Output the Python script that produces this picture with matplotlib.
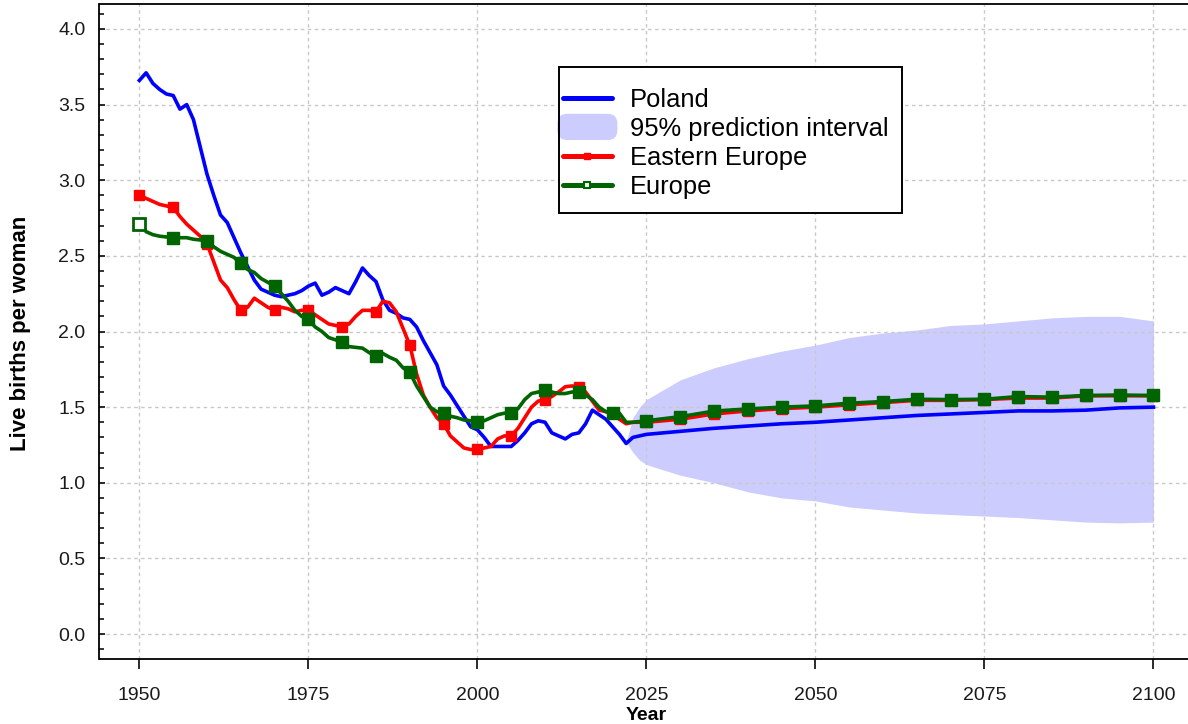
import matplotlib
matplotlib.use("Agg")
import matplotlib.pyplot as plt
from matplotlib.ticker import MultipleLocator
from matplotlib.patches import Patch, Rectangle, FancyBboxPatch
from matplotlib.lines import Line2D
from matplotlib.legend_handler import HandlerPatch

plt.rcParams["font.family"] = ["Liberation Sans", "DejaVu Sans"]

# ---- Total fertility rate, live births per woman ----
poland_years = list(range(1950, 2024)) + list(range(2025, 2101, 5))
poland_tfr = [
    3.66, 3.71, 3.64, 3.60, 3.57, 3.56, 3.47, 3.50, 3.40, 3.22,   # 1950-59
    3.04, 2.90, 2.77, 2.72, 2.62, 2.52, 2.43, 2.34, 2.28, 2.26,   # 1960-69
    2.24, 2.23, 2.24, 2.25, 2.27, 2.30, 2.32, 2.24, 2.26, 2.29,   # 1970-79
    2.27, 2.25, 2.33, 2.42, 2.37, 2.33, 2.21, 2.14, 2.12, 2.09,   # 1980-89
    2.08, 2.03, 1.94, 1.86, 1.78, 1.64, 1.58, 1.51, 1.44, 1.37,   # 1990-99
    1.35, 1.30, 1.24, 1.24, 1.24, 1.24, 1.28, 1.33, 1.39, 1.41,   # 2000-09
    1.40, 1.33, 1.31, 1.29, 1.32, 1.33, 1.39, 1.48, 1.45, 1.42,   # 2010-19
    1.37, 1.32, 1.26, 1.30,                                       # 2020-23
    1.32, 1.34, 1.36, 1.375, 1.39, 1.40, 1.415, 1.43,             # 2025-60
    1.445, 1.455, 1.465, 1.475, 1.475, 1.48, 1.495, 1.50,         # 2065-2100
]

east_years = [
    1950, 1951, 1953, 1955, 1956, 1957, 1959, 1960, 1961, 1962, 1963, 1964,
    1965, 1966, 1967, 1968, 1969, 1970, 1971, 1972, 1973, 1974, 1975, 1976,
    1977, 1978, 1979, 1980, 1981, 1982, 1983, 1984, 1985, 1986, 1987, 1988,
    1989, 1990, 1991, 1992, 1993, 1994, 1995, 1996, 1997, 1998, 1999, 2000,
    2001, 2002, 2003, 2004, 2005, 2006, 2007, 2008, 2009, 2010, 2011, 2012,
    2013, 2014, 2015, 2016, 2017, 2018, 2019, 2020, 2021, 2022, 2023,
] + list(range(2025, 2101, 5))
east_tfr = [
    2.90, 2.88, 2.84, 2.82, 2.76, 2.71, 2.63, 2.58, 2.46, 2.34, 2.29, 2.21,
    2.14, 2.16, 2.22, 2.19, 2.16, 2.14, 2.16, 2.15, 2.13, 2.14, 2.14, 2.11,
    2.08, 2.05, 2.04, 2.03, 2.05, 2.10, 2.14, 2.14, 2.13, 2.20, 2.19, 2.13,
    2.02, 1.91, 1.72, 1.58, 1.50, 1.43, 1.39, 1.31, 1.27, 1.23, 1.22, 1.22,
    1.23, 1.24, 1.29, 1.31, 1.31, 1.36, 1.43, 1.50, 1.54, 1.55, 1.57, 1.60,
    1.635, 1.64, 1.635, 1.60, 1.54, 1.48, 1.47, 1.46, 1.42, 1.39, 1.40,
    1.40, 1.42, 1.455, 1.475, 1.49, 1.50, 1.515, 1.53,
    1.545, 1.545, 1.55, 1.56, 1.56, 1.575, 1.575, 1.575,
]

europe_years = [
    1950, 1951, 1952, 1953, 1955, 1957, 1958, 1960, 1961, 1962, 1964, 1965,
    1966, 1967, 1968, 1970, 1971, 1972, 1973, 1974, 1975, 1976, 1977, 1978,
    1980, 1981, 1983, 1984, 1985, 1986, 1987, 1988, 1989, 1990, 1991, 1992,
    1993, 1994, 1995, 1996, 1997, 1998, 1999, 2000, 2001, 2002, 2003, 2004,
    2005, 2006, 2007, 2008, 2009, 2010, 2011, 2012, 2013, 2014, 2015, 2016,
    2017, 2018, 2019, 2020, 2021, 2022, 2023,
] + list(range(2025, 2101, 5))
europe_tfr = [
    2.71, 2.66, 2.64, 2.63, 2.62, 2.62, 2.61, 2.60, 2.56, 2.53, 2.49, 2.45,
    2.41, 2.39, 2.35, 2.30, 2.25, 2.20, 2.14, 2.10, 2.08, 2.03, 2.00, 1.96,
    1.93, 1.90, 1.89, 1.86, 1.84, 1.855, 1.83, 1.81, 1.76, 1.73, 1.64, 1.57,
    1.50, 1.47, 1.46, 1.44, 1.43, 1.415, 1.41, 1.40, 1.41, 1.43, 1.45, 1.46,
    1.46, 1.49, 1.55, 1.59, 1.60, 1.61, 1.60, 1.59, 1.59, 1.60, 1.60, 1.58,
    1.55, 1.50, 1.47, 1.46, 1.46, 1.40, 1.40,
    1.41, 1.437, 1.474, 1.488, 1.50, 1.508, 1.526, 1.537,
    1.552, 1.55, 1.552, 1.57, 1.566, 1.577, 1.58, 1.577,
]

# 95% prediction interval for Poland
pi_years = [2022, 2023, 2024, 2025, 2030, 2035, 2040, 2045, 2050, 2055,
            2060, 2065, 2070, 2075, 2080, 2085, 2090, 2095, 2100]
pi_low = [1.27, 1.20, 1.15, 1.12, 1.05, 1.00, 0.94, 0.90, 0.88, 0.84,
          0.82, 0.80, 0.79, 0.78, 0.77, 0.755, 0.74, 0.735, 0.74]
pi_high = [1.27, 1.43, 1.50, 1.55, 1.68, 1.76, 1.82, 1.87, 1.91, 1.96,
           1.99, 2.01, 2.04, 2.05, 2.07, 2.09, 2.10, 2.10, 2.07]

labels = ["Poland", "95% prediction interval", "Eastern Europe", "Europe"]
x_ticks = [1950, 1975, 2000, 2025, 2050, 2075, 2100]

BLUE = "#0000ff"
BAND = "#ccccff"
RED = "#ff0000"
GREEN = "#006400"

W, H = 1188, 724
fig = plt.figure(figsize=(W / 100, H / 100), dpi=100)
ax = fig.add_axes([99.5 / W, 65 / H, 1090.5 / W, 655 / H])

ax.fill_between(pi_years, pi_low, pi_high, color=BAND, linewidth=0, zorder=1)

def every5(yrs):
    return [i for i, y in enumerate(yrs) if y % 5 == 0]

ax.plot(east_years, east_tfr, color=RED, lw=2.6, marker="s", ms=6.5,
        markevery=every5(east_years), zorder=3)
ax.plot(europe_years, europe_tfr, color=GREEN, lw=2.6, marker="s", ms=8.5,
        markevery=every5(europe_years)[1:], zorder=4)
ax.plot(europe_years[:1], europe_tfr[:1], linestyle="none", marker="s", ms=8,
        mfc="white", mec=GREEN, mew=2, zorder=5)
ax.plot(poland_years, poland_tfr, color=BLUE, lw=2.6, zorder=2.5)

ax.set_xlim(1944.1, 2105.4)
ax.set_ylim(-0.165, 4.165)

ax.set_axisbelow("line")
ax.grid(True, which="major", color="#c8c8c8", linestyle=(0, (2.5, 2.5)), linewidth=1.0)

ax.xaxis.set_major_locator(plt.FixedLocator(x_ticks))
ax.yaxis.set_major_locator(MultipleLocator(0.5))
ax.yaxis.set_minor_locator(MultipleLocator(0.1))
ax.yaxis.set_major_formatter(plt.FormatStrFormatter("%.1f"))

ax.tick_params(axis="x", direction="out", length=7, width=1.3, pad=13,
               labelsize=14, colors="#1a1a1a")
ax.tick_params(axis="y", which="major", direction="in", length=4.5, width=1.3,
               pad=10, labelsize=14, colors="#1a1a1a")
ax.tick_params(axis="y", which="minor", direction="in", length=3.5, width=1.1)

for side in ("left", "bottom", "top"):
    ax.spines[side].set_linewidth(1.3)
    ax.spines[side].set_color("black")
ax.spines["right"].set_visible(False)

fig.text(646 / W, 1 - 719.5 / H, "Year", ha="center", va="baseline",
         fontsize=14, fontweight="bold")
fig.text(21 / W, 1 - 333 / H, "Live births per woman", ha="center",
         va="center", rotation=90, fontsize=16, fontweight="bold")


def band_blob(legend, orig_handle, xdescent, ydescent, width, height, fontsize):
    return FancyBboxPatch((-xdescent - 4, -ydescent - 3), width + 8, height + 6,
                          boxstyle="round,pad=0,rounding_size=7",
                          facecolor=BAND, edgecolor="none")


handles = [
    Line2D([], [], color=BLUE, lw=3.6, solid_capstyle="round"),
    Patch(facecolor=BAND, edgecolor="none"),
    Line2D([], [], color=RED, lw=3.6, marker="s", ms=5, solid_capstyle="round"),
    Line2D([], [], color=GREEN, lw=3.6, marker="s", ms=5, mfc="white",
           mec=GREEN, mew=1.5, solid_capstyle="round"),
]
leg = fig.legend(handles, labels, loc="upper left",
                 bbox_to_anchor=(563 / W, 1 - 88 / H),
                 bbox_transform=fig.transFigure, fontsize=18.4, frameon=False,
                 handlelength=1.91, handletextpad=0.70, labelspacing=0.19,
                 borderpad=0, borderaxespad=0,
                 handler_map={Patch: HandlerPatch(patch_func=band_blob)})
leg.set_zorder(10)

# legend frame
fig.add_artist(Rectangle((559 / W, 1 - 213 / H), (902 - 559) / W, (213 - 67) / H,
                         transform=fig.transFigure, facecolor="none",
                         edgecolor="black", linewidth=1.4, zorder=11))
fig.patches.insert(0, Rectangle((559 / W, 1 - 213 / H), (902 - 559) / W,
                                (213 - 67) / H, transform=fig.transFigure,
                                facecolor="white", edgecolor="none", zorder=9))

fig.savefig("out.png", dpi=100)
